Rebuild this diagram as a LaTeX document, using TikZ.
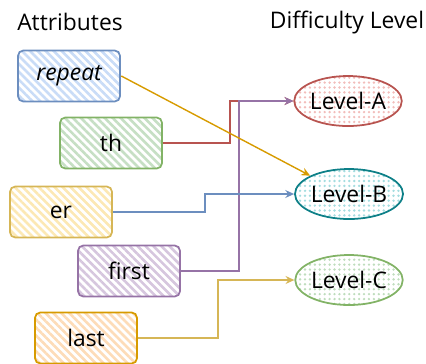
\documentclass[tikz,border=0pt]{standalone}
\usepackage{fontspec}
\setmainfont{Open Sans}
\usetikzlibrary{shapes.geometric,patterns.meta,arrows.meta}

\definecolor{blueS}{HTML}{6C8EBF}\definecolor{blueF}{HTML}{C9DCF7}
\definecolor{greenS}{HTML}{82B366}\definecolor{greenF}{HTML}{C6DFC4}
\definecolor{yellowS}{HTML}{D6B656}\definecolor{yellowF}{HTML}{FCE8B4}
\definecolor{purpleS}{HTML}{9673A6}\definecolor{purpleF}{HTML}{D6C6DE}
\definecolor{orangeS}{HTML}{D79B00}\definecolor{orangeF}{HTML}{FDDCB8}
\definecolor{redS}{HTML}{B85450}\definecolor{redF}{HTML}{F2BDBB}
\definecolor{tealS}{HTML}{0E8088}\definecolor{tealF}{HTML}{A5DDE0}
\definecolor{mintF}{HTML}{BFDDBD}

\tikzset{
  attr/.style 2 args={draw=#1, line width=1pt, rounded corners=3pt,
    minimum width=2.04cm, minimum height=1.02cm, inner sep=0pt,
    pattern={Lines[angle=-45,distance=3.2pt,line width=1.5pt]}, pattern color=#2},
  level/.style 2 args={ellipse, draw=#1, line width=1pt,
    minimum width=2.02cm, minimum height=1.0cm, inner sep=0pt,
    pattern={Dots[distance=2.8pt,radius=0.75pt]}, pattern color=#2},
  link/.style={line width=0.8pt, -{Stealth[length=5pt,width=4.5pt]}},
  title/.style={font=\fontsize{13}{15}\selectfont}
}

\begin{document}
\begin{tikzpicture}[x=0.02cm, y=-0.02cm, font=\fontsize{13}{15}\selectfont]
  \useasboundingbox (0,0) rectangle (426,363);

  % column headers
  \node[title] (hAttr) at (70,22) {Attributes};
  \node[title] (hLevel) at (347,22) {Difficulty Level};

  % attributes
  \node[attr={blueS}{blueF}] (rep) at (69,76) {\itshape repeat};
  \node[attr={greenS}{greenF}] (th) at (111,143) {th};
  \node[attr={yellowS}{yellowF}] (er) at (61,212) {er};
  \node[attr={purpleS}{purpleF}] (first) at (129,271) {first};
  \node[attr={orangeS}{orangeF}] (last) at (86,338) {last};

  % difficulty levels
  \node[level={redS}{redF}] (lvA) at (348,101) {Level-A};
  \node[level={tealS}{tealF}] (lvB) at (349,194) {Level-B};
  \node[level={greenS}{mintF}] (lvC) at (349,280) {Level-C};

  % links
  \draw[link, draw=redS] (th.east) -- ++(67,0) |- (lvA.west);
  \draw[link, draw=purpleS] (first.east) -- ++(58,0) |- (lvA.west);
  \draw[link, draw=blueS] (er.east) -- ++(92,0) |- (lvB.west);
  \draw[link, draw=yellowS] (last.east) -- ++(80,0) |- (lvC.west);
  \draw[link, draw=orangeS] (rep.east) -- (lvB.north west);
\end{tikzpicture}
\end{document}
